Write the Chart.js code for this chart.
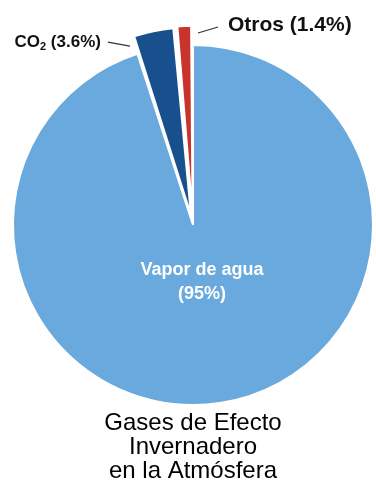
<!DOCTYPE html>
<html>
<head>
<meta charset="utf-8">
<script src="https://cdn.jsdelivr.net/npm/chart.js@4"></script>
<style>
  html, body { margin: 0; padding: 0; background: #fff; }
  #wrap { width: 376px; height: 489px; position: relative; }
</style>
</head>
<body>
<div id="wrap"><canvas id="myChart"></canvas></div>
<script>
// data
const gases = ['Vapor de agua', 'CO2', 'Otros'];
const shares = [95, 3.6, 1.4];
const sliceColors = ['#69a9dd', '#17508c', '#c8332b'];
const sliceOffsets = [0, 40, 40];
const titleLines = ['Gases de Efecto', 'Invernadero', 'en la Atmósfera'];

const FONT = "'Liberation Sans', Arial, sans-serif";

function fmt(v) {
    return '(' + v + '%)';
}

// draws the three slice labels, placed from the arc elements
const sliceLabels = {
    id: 'sliceLabels',
    afterDatasetsDraw(chart) {
        const ctx = chart.ctx;
        const arcs = chart.getDatasetMeta(0).data;
        ctx.save();
        ctx.textBaseline = 'middle';

        // big slice, white text inside
        const v = arcs[0];
        const vm = (v.startAngle + v.endAngle) / 2;
        const vx = v.x + Math.cos(vm) * v.outerRadius * 0.32;
        const vy = v.y + Math.sin(vm) * v.outerRadius * 0.32;
        ctx.fillStyle = '#ffffff';
        ctx.textAlign = 'center';
        ctx.font = 'bold 18px ' + FONT;
        ctx.fillText(gases[0], vx, vy - 12);
        ctx.fillText(fmt(shares[0]), vx, vy + 12);

        ctx.strokeStyle = '#333';
        ctx.lineWidth = 1.3;
        ctx.fillStyle = '#111';

        // CO2, label on the left
        const c = arcs[1];
        const c0x = c.x + Math.cos(c.startAngle) * (c.outerRadius + 8) - 5;
        const c0y = c.y + Math.sin(c.startAngle) * (c.outerRadius + 8);
        const c1x = c0x - 22, c1y = c0y - 4;
        ctx.beginPath();
        ctx.moveTo(c0x, c0y);
        ctx.lineTo(c1x, c1y);
        ctx.stroke();

        const bigF = 'bold 17px ' + FONT;
        const subF = 'bold 11px ' + FONT;
        ctx.font = bigF;
        const w1 = ctx.measureText('CO').width;
        const w3 = ctx.measureText(' ' + fmt(shares[1])).width;
        ctx.font = subF;
        const w2 = ctx.measureText('2').width;
        let tx = c1x - 7 - (w1 + w2 + w3);
        ctx.textAlign = 'left';
        ctx.font = bigF;
        ctx.fillText('CO', tx, c1y);
        ctx.font = subF;
        ctx.fillText('2', tx + w1, c1y + 5);
        ctx.font = bigF;
        ctx.fillText(' ' + fmt(shares[1]), tx + w1 + w2, c1y);

        // Otros, label on the right
        const o = arcs[2];
        const o0x = o.x + Math.cos(o.endAngle) * (o.outerRadius + 12) + 5;
        const o0y = o.y + Math.sin(o.endAngle) * (o.outerRadius + 12);
        const o1x = o0x + 20, o1y = o0y - 6;
        ctx.beginPath();
        ctx.moveTo(o0x, o0y);
        ctx.lineTo(o1x, o1y);
        ctx.stroke();
        ctx.font = 'bold 21px ' + FONT;
        ctx.fillText(gases[2] + ' ' + fmt(shares[2]), o1x + 10, o1y - 2);

        ctx.restore();
    }
};

new Chart('myChart', {
    type: 'pie',
    data: {
        labels: gases,
        datasets: [{
            data: shares,
            backgroundColor: sliceColors,
            borderColor: '#ffffff',
            borderWidth: 2,
            offset: sliceOffsets,
            hoverOffset: 0,
            clip: false
        }]
    },
    options: {
        responsive: true,
        maintainAspectRatio: false,
        animation: false,
        radius: 180,
        layout: { padding: { top: 50, left: 10, right: 0, bottom: 0 } },
        plugins: {
            legend: { display: false },
            tooltip: { enabled: false },
            title: {
                display: true,
                position: 'bottom',
                text: titleLines,
                color: '#000',
                font: { family: FONT, size: 24, weight: 'normal', lineHeight: 1.0 },
                padding: { top: 11, bottom: 6 }
            }
        }
    },
    plugins: [sliceLabels]
});
</script>
</body>
</html>
